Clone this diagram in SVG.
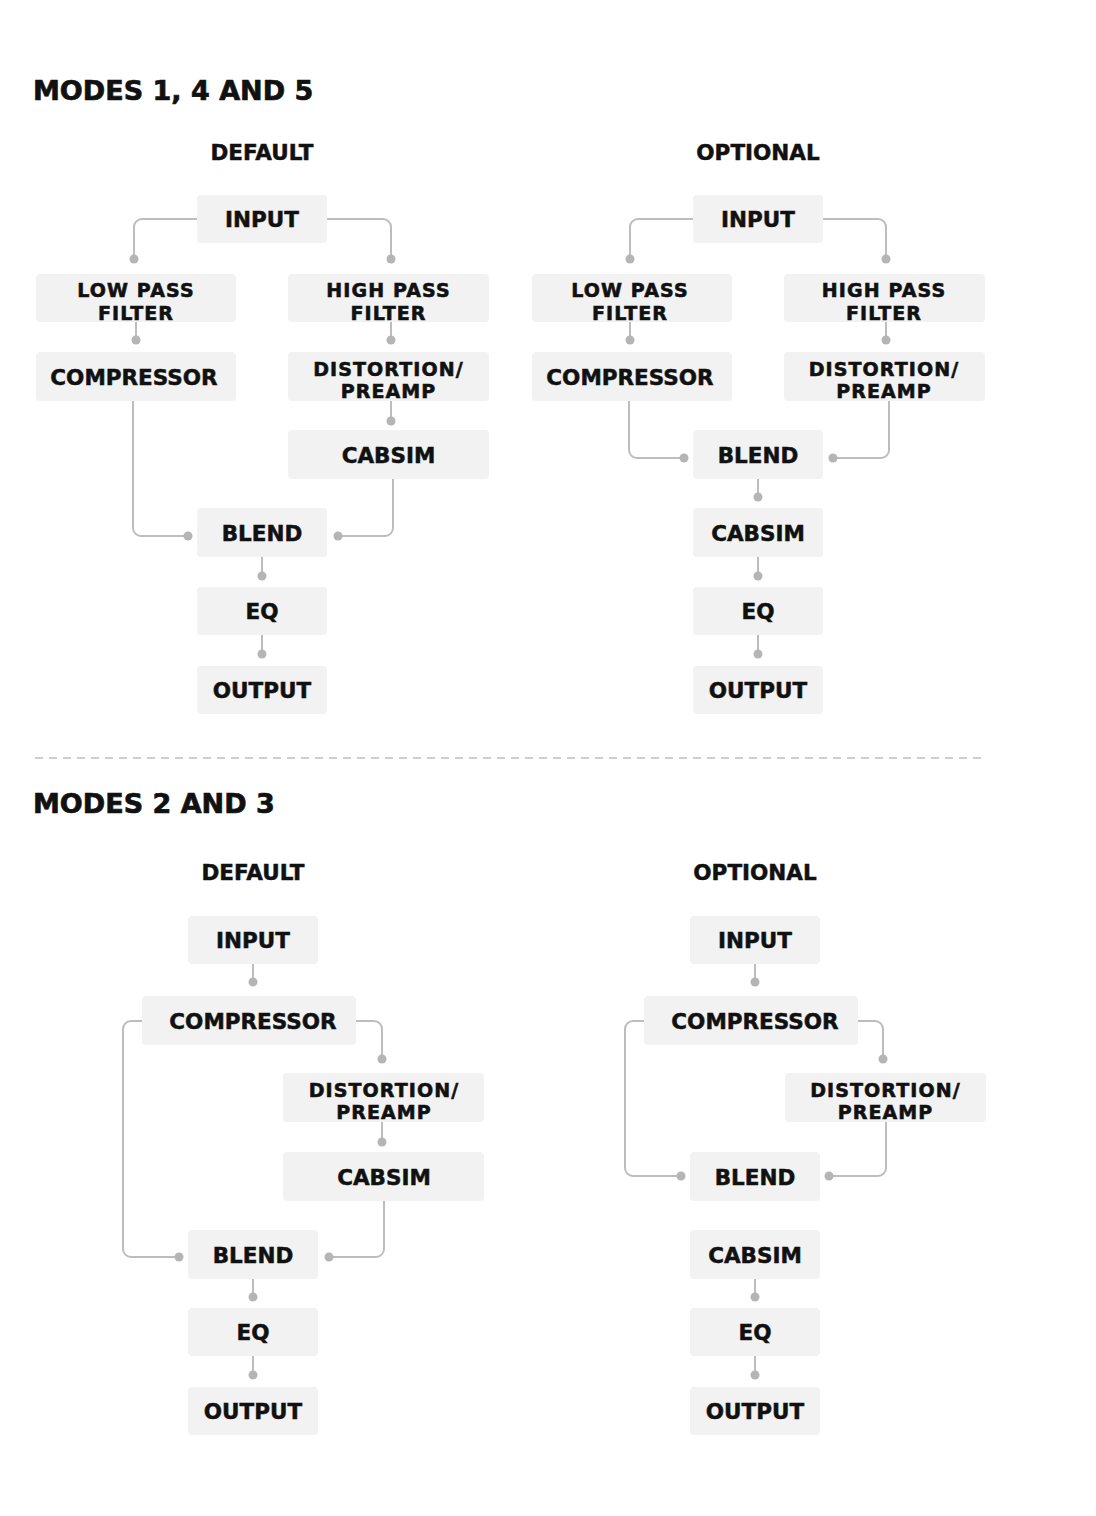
<svg xmlns="http://www.w3.org/2000/svg" width="1096" height="1516" viewBox="0 0 1096 1516">
<style>
.bg{fill:#ffffff}
.box{fill:#f2f2f2}
.lbl{font-family:"DejaVu Sans",sans-serif;font-weight:bold;font-size:21.5px;fill:#111;stroke:#111;stroke-width:0.5;text-anchor:middle}
.lbl2{font-family:"DejaVu Sans",sans-serif;font-weight:bold;font-size:19px;letter-spacing:1.1px;fill:#111;stroke:#111;stroke-width:0.6;text-anchor:middle}
.h1{font-family:"DejaVu Sans",sans-serif;font-weight:bold;font-size:27px;fill:#111;stroke:#111;stroke-width:0.7}
.h2{font-family:"DejaVu Sans",sans-serif;font-weight:bold;font-size:21.5px;fill:#111;stroke:#111;stroke-width:0.5;text-anchor:middle}
.conn path{fill:none;stroke:#bdbdbd;stroke-width:2}
.conn circle{fill:#b5b5b5}
.sep{stroke:#9e9e9e;stroke-width:1.2;stroke-dasharray:8 6}
</style>
<rect class="bg" x="0" y="0" width="1096" height="1516"/>

<g id="headings">
<text class="h1" x="33" y="100">MODES 1, 4 AND 5</text>
<text class="h2" x="262" y="160">DEFAULT</text>
<text class="h2" x="758" y="160">OPTIONAL</text>
<line class="sep" x1="35" y1="758" x2="985" y2="758"/>
<text class="h1" x="33" y="813">MODES 2 AND 3</text>
<text class="h2" x="253" y="880">DEFAULT</text>
<text class="h2" x="755" y="880">OPTIONAL</text>
</g>

<g id="connectors" class="conn">
<path d="M197 219 H142 A8 8 0 0 0 134 227 V259"/><circle cx="134" cy="259" r="4.5"/>
<path d="M327 219 H383 A8 8 0 0 1 391 227 V259"/><circle cx="391" cy="259" r="4.5"/>
<path d="M136 322 V340"/><circle cx="136" cy="340" r="4.5"/>
<path d="M391 322 V340"/><circle cx="391" cy="340" r="4.5"/>
<path d="M391 401 V421"/><circle cx="391" cy="421" r="4.5"/>
<path d="M133 401 V528 A8 8 0 0 0 141 536 H188"/><circle cx="188" cy="536" r="4.5"/>
<path d="M393 479 V528 A8 8 0 0 1 385 536 H338"/><circle cx="338" cy="536" r="4.5"/>
<path d="M262 557 V576"/><circle cx="262" cy="576" r="4.5"/>
<path d="M262 635 V654"/><circle cx="262" cy="654" r="4.5"/>
<path d="M693 219 H638 A8 8 0 0 0 630 227 V259"/><circle cx="630" cy="259" r="4.5"/>
<path d="M823 219 H878 A8 8 0 0 1 886 227 V259"/><circle cx="886" cy="259" r="4.5"/>
<path d="M630 322 V340"/><circle cx="630" cy="340" r="4.5"/>
<path d="M886 322 V340"/><circle cx="886" cy="340" r="4.5"/>
<path d="M629 401 V450 A8 8 0 0 0 637 458 H684"/><circle cx="684" cy="458" r="4.5"/>
<path d="M889 401 V450 A8 8 0 0 1 881 458 H833"/><circle cx="833" cy="458" r="4.5"/>
<path d="M758 479 V497"/><circle cx="758" cy="497" r="4.5"/>
<path d="M758 557 V576"/><circle cx="758" cy="576" r="4.5"/>
<path d="M758 635 V654"/><circle cx="758" cy="654" r="4.5"/>
<path d="M253 964 V982"/><circle cx="253" cy="982" r="4.5"/>
<path d="M142 1021 H131 A8 8 0 0 0 123 1029 V1249 A8 8 0 0 0 131 1257 H179"/><circle cx="179" cy="1257" r="4.5"/>
<path d="M356 1021 H374 A8 8 0 0 1 382 1029 V1059"/><circle cx="382" cy="1059" r="4.5"/>
<path d="M382 1122 V1142"/><circle cx="382" cy="1142" r="4.5"/>
<path d="M384 1201 V1249 A8 8 0 0 1 376 1257 H329"/><circle cx="329" cy="1257" r="4.5"/>
<path d="M253 1279 V1297"/><circle cx="253" cy="1297" r="4.5"/>
<path d="M253 1356 V1375"/><circle cx="253" cy="1375" r="4.5"/>
<path d="M755 964 V982"/><circle cx="755" cy="982" r="4.5"/>
<path d="M644 1021 H633 A8 8 0 0 0 625 1029 V1168 A8 8 0 0 0 633 1176 H681"/><circle cx="681" cy="1176" r="4.5"/>
<path d="M858 1021 H875 A8 8 0 0 1 883 1029 V1059"/><circle cx="883" cy="1059" r="4.5"/>
<path d="M886 1122 V1168 A8 8 0 0 1 878 1176 H829"/><circle cx="829" cy="1176" r="4.5"/>
<path d="M755 1279 V1297"/><circle cx="755" cy="1297" r="4.5"/>
<path d="M755 1356 V1375"/><circle cx="755" cy="1375" r="4.5"/>
</g>

<g id="tl-input"><rect class="box" x="197" y="195" width="130" height="48" rx="4"/><text class="lbl" x="262" y="227">INPUT</text></g>
<g id="tl-lpf"><rect class="box" x="36" y="274" width="200" height="48" rx="4"/><text class="lbl2" x="136" y="297">LOW PASS<tspan x="136" dy="22.5">FILTER</tspan></text></g>
<g id="tl-hpf"><rect class="box" x="288" y="274" width="201" height="48" rx="4"/><text class="lbl2" x="388.5" y="297">HIGH PASS<tspan x="388.5" dy="22.5">FILTER</tspan></text></g>
<g id="tl-comp"><rect class="box" x="36" y="352" width="200" height="49" rx="4"/><text class="lbl" x="134" y="385">COMPRESSOR</text></g>
<g id="tl-dist"><rect class="box" x="288" y="352" width="201" height="49" rx="4"/><text class="lbl2" x="388.5" y="375.5">DISTORTION/<tspan x="388.5" dy="22.5">PREAMP</tspan></text></g>
<g id="tl-cab"><rect class="box" x="288" y="430" width="201" height="49" rx="4"/><text class="lbl" x="388.5" y="463">CABSIM</text></g>
<g id="tl-blend"><rect class="box" x="197" y="508" width="130" height="49" rx="4"/><text class="lbl" x="262" y="541">BLEND</text></g>
<g id="tl-eq"><rect class="box" x="197" y="587" width="130" height="48" rx="4"/><text class="lbl" x="262" y="619">EQ</text></g>
<g id="tl-out"><rect class="box" x="197" y="666" width="130" height="48" rx="4"/><text class="lbl" x="262" y="698">OUTPUT</text></g>

<g id="tr-input"><rect class="box" x="693" y="195" width="130" height="48" rx="4"/><text class="lbl" x="758" y="227">INPUT</text></g>
<g id="tr-lpf"><rect class="box" x="532" y="274" width="200" height="48" rx="4"/><text class="lbl2" x="630" y="297">LOW PASS<tspan x="630" dy="22.5">FILTER</tspan></text></g>
<g id="tr-hpf"><rect class="box" x="784" y="274" width="201" height="48" rx="4"/><text class="lbl2" x="884" y="297">HIGH PASS<tspan x="884" dy="22.5">FILTER</tspan></text></g>
<g id="tr-comp"><rect class="box" x="532" y="352" width="200" height="49" rx="4"/><text class="lbl" x="630" y="385">COMPRESSOR</text></g>
<g id="tr-dist"><rect class="box" x="784" y="352" width="201" height="49" rx="4"/><text class="lbl2" x="884" y="375.5">DISTORTION/<tspan x="884" dy="22.5">PREAMP</tspan></text></g>
<g id="tr-blend"><rect class="box" x="693" y="430" width="130" height="49" rx="4"/><text class="lbl" x="758" y="463">BLEND</text></g>
<g id="tr-cab"><rect class="box" x="693" y="508" width="130" height="49" rx="4"/><text class="lbl" x="758" y="541">CABSIM</text></g>
<g id="tr-eq"><rect class="box" x="693" y="587" width="130" height="48" rx="4"/><text class="lbl" x="758" y="619">EQ</text></g>
<g id="tr-out"><rect class="box" x="693" y="666" width="130" height="48" rx="4"/><text class="lbl" x="758" y="698">OUTPUT</text></g>

<g id="bl-input"><rect class="box" x="188" y="916" width="130" height="48" rx="4"/><text class="lbl" x="253" y="948">INPUT</text></g>
<g id="bl-comp"><rect class="box" x="142" y="996" width="214" height="49" rx="4"/><text class="lbl" x="253" y="1029">COMPRESSOR</text></g>
<g id="bl-dist"><rect class="box" x="283" y="1073" width="201" height="49" rx="4"/><text class="lbl2" x="384" y="1096.5">DISTORTION/<tspan x="384" dy="22.5">PREAMP</tspan></text></g>
<g id="bl-cab"><rect class="box" x="283" y="1152" width="201" height="49" rx="4"/><text class="lbl" x="384" y="1185">CABSIM</text></g>
<g id="bl-blend"><rect class="box" x="188" y="1230" width="130" height="49" rx="4"/><text class="lbl" x="253" y="1263">BLEND</text></g>
<g id="bl-eq"><rect class="box" x="188" y="1308" width="130" height="48" rx="4"/><text class="lbl" x="253" y="1340">EQ</text></g>
<g id="bl-out"><rect class="box" x="188" y="1387" width="130" height="48" rx="4"/><text class="lbl" x="253" y="1419">OUTPUT</text></g>

<g id="br-input"><rect class="box" x="690" y="916" width="130" height="48" rx="4"/><text class="lbl" x="755" y="948">INPUT</text></g>
<g id="br-comp"><rect class="box" x="644" y="996" width="214" height="49" rx="4"/><text class="lbl" x="755" y="1029">COMPRESSOR</text></g>
<g id="br-dist"><rect class="box" x="785" y="1073" width="201" height="49" rx="4"/><text class="lbl2" x="885.5" y="1096.5">DISTORTION/<tspan x="885.5" dy="22.5">PREAMP</tspan></text></g>
<g id="br-blend"><rect class="box" x="690" y="1152" width="130" height="49" rx="4"/><text class="lbl" x="755" y="1185">BLEND</text></g>
<g id="br-cab"><rect class="box" x="690" y="1230" width="130" height="49" rx="4"/><text class="lbl" x="755" y="1263">CABSIM</text></g>
<g id="br-eq"><rect class="box" x="690" y="1308" width="130" height="48" rx="4"/><text class="lbl" x="755" y="1340">EQ</text></g>
<g id="br-out"><rect class="box" x="690" y="1387" width="130" height="48" rx="4"/><text class="lbl" x="755" y="1419">OUTPUT</text></g>
</svg>
